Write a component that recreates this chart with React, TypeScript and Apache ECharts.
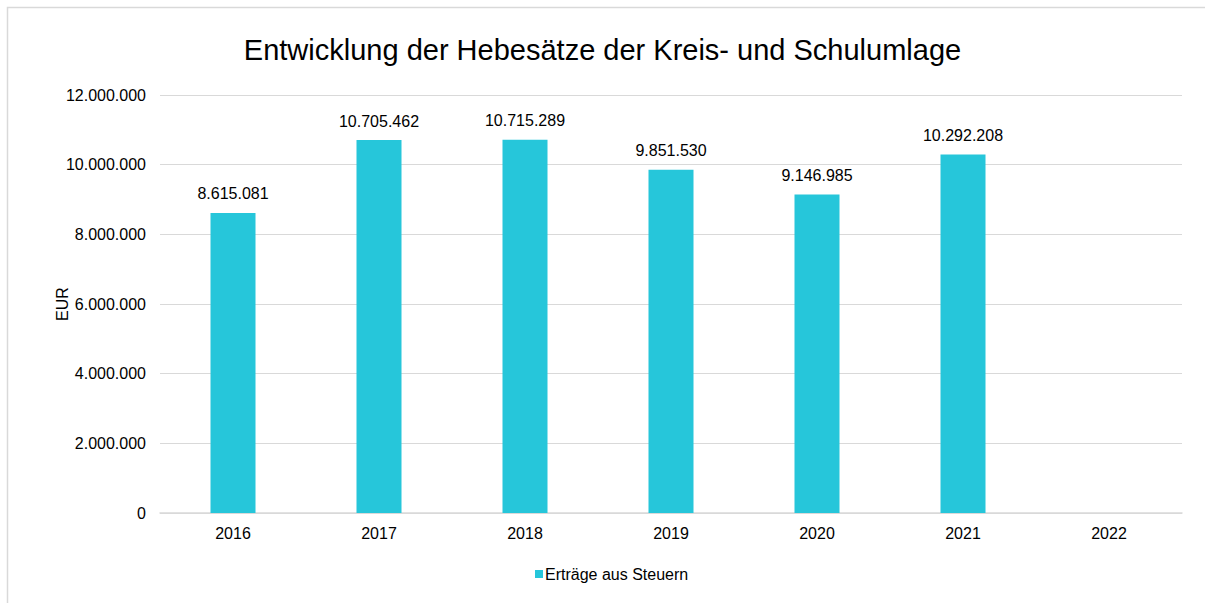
import React, { useEffect, useRef } from "react";
import * as echarts from "echarts";

const categories = ["2016", "2017", "2018", "2019", "2020", "2021", "2022"];
const values: (number | null)[] = [8615081, 10705462, 10715289, 9851530, 9146985, 10292208, null];
const seriesName = "Erträge aus Steuern";
const titleText = "Entwicklung der Hebesätze der Kreis- und Schulumlage";
const yAxisName = "EUR";

const fmt = (v: number) => Math.round(v).toString().replace(/\B(?=(\d{3})+(?!\d))/g, ".");

export default function App() {
  const ref = useRef<HTMLDivElement>(null);
  useEffect(() => {
    const chart = echarts.init(ref.current!, undefined, { renderer: "svg" });
    const font = "'Liberation Sans', Arial, sans-serif";
    chart.setOption({
      animation: false,
      textStyle: { fontFamily: font },
      graphic: [
        {
          type: "rect",
          shape: { x: 7.5, y: 7.5, width: 1220, height: 620 },
          style: { fill: "none", stroke: "#d9d9d9", lineWidth: 1.5 },
          silent: true,
        },
      ],
      title: {
        text: titleText,
        left: "center",
        top: 30,
        textStyle: { fontSize: 29, fontWeight: "normal", color: "#000", fontFamily: font },
      },
      grid: { left: 160, right: 23, top: 95, bottom: 90 },
      legend: {
        bottom: 16,
        left: 530,
        itemWidth: 8,
        itemHeight: 8,
        itemGap: 10,
        icon: "rect",
        textStyle: { fontSize: 16, color: "#000", fontFamily: font, padding: [0, 0, 0, -3] },
      },
      xAxis: {
        type: "category",
        data: categories,
        axisTick: { show: false },
        axisLine: { lineStyle: { color: "#d9d9d9", width: 1.5 } },
        axisLabel: { fontSize: 16, color: "#000", margin: 12 },
      },
      yAxis: {
        type: "value",
        min: 0,
        max: 12000000,
        interval: 2000000,
        name: yAxisName,
        nameLocation: "middle",
        nameGap: 90,
        nameMoveOverlap: false,
        nameRotate: 90,
        nameTextStyle: { fontSize: 16, color: "#000" },
        axisLabel: { fontSize: 16, color: "#000", margin: 14, formatter: (v: number) => fmt(v) },
        splitLine: { lineStyle: { color: "#d9d9d9", width: 1 } },
        axisLine: { show: false },
        axisTick: { show: false },
      },
      series: [
        {
          name: seriesName,
          type: "bar",
          data: values,
          barWidth: 45,
          itemStyle: { color: "#26C6DA" },
          label: {
            show: true,
            position: "top",
            distance: 11,
            fontSize: 16,
            color: "#000",
            formatter: (p: any) => (p.value == null ? "" : fmt(p.value)),
          },
        },
      ],
    });
    return () => chart.dispose();
  }, []);
  return (
    <div
      ref={ref}
      style={{ position: "fixed", left: 0, top: 0, width: 1205, height: 603, background: "#fff" }}
    />
  );
}
